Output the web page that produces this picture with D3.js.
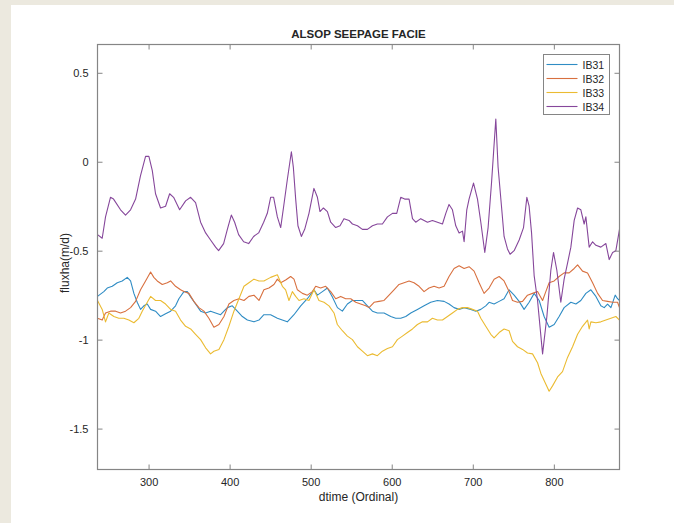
<!DOCTYPE html>
<html>
<head>
<meta charset="utf-8">
<script src="https://cdn.jsdelivr.net/npm/d3@7"></script>
<style>
  html, body { margin: 0; padding: 0; background: #ffffff; }
  svg { display: block; }
  text { font-family: "Liberation Sans", Arial, Helvetica, sans-serif; fill: #262626; }
</style>
</head>
<body>
<svg id="chart" width="674" height="523"></svg>
<script>
// Series as [dtime, fluxha] pairs
const IB31 = [
  [237,-0.757],[244.8,-0.73],[249,-0.71],[255.2,-0.70],[261.4,-0.68],[267.5,-0.67],[273.7,-0.65],
  [277.8,-0.67],[281.9,-0.74],[286,-0.79],[290.1,-0.83],[294.2,-0.81],[298.4,-0.80],[302.5,-0.83],
  [308.6,-0.84],[314.8,-0.87],[321,-0.855],[327.2,-0.84],[333.3,-0.81],[337.4,-0.77],[343.6,-0.73],
  [347.8,-0.73],[351.9,-0.76],[358,-0.80],[364.2,-0.84],[370.4,-0.85],[376.5,-0.84],[382.7,-0.85],
  [388.9,-0.86],[393,-0.84],[397.2,-0.82],[403.3,-0.81],[409.5,-0.84],[415.7,-0.87],[421.9,-0.89],
  [430,-0.90],[436.2,-0.89],[442.3,-0.86],[450.6,-0.86],[458.9,-0.88],[465,-0.89],[471.2,-0.90],
  [479.4,-0.86],[487.7,-0.81],[495.9,-0.77],[504.1,-0.72],[508.3,-0.75],[514.5,-0.73],[520.6,-0.71],
  [526.8,-0.76],[533,-0.82],[539.1,-0.84],[545.3,-0.80],[551.5,-0.78],[557.7,-0.78],[563.8,-0.78],
  [570,-0.81],[576.2,-0.84],[582.3,-0.85],[590.5,-0.85],[598.8,-0.87],[604.9,-0.88],[611.1,-0.88],
  [617.3,-0.87],[623.5,-0.85],[631.7,-0.83],[639.9,-0.81],[648.1,-0.79],[656.4,-0.78],[664.6,-0.785],
  [670.7,-0.80],[676.9,-0.82],[683.1,-0.83],[689.3,-0.82],[697.5,-0.83],[703.7,-0.84],[709.9,-0.83],
  [716,-0.81],[720.1,-0.79],[726.3,-0.80],[732.5,-0.785],[738.6,-0.77],[744.8,-0.72],[751,-0.75],
  [757.2,-0.785],[763.3,-0.83],[769.5,-0.79],[775.7,-0.74],[781.9,-0.78],[788,-0.87],[794.2,-0.93],
  [800.4,-0.915],[806.5,-0.87],[812.7,-0.82],[821,-0.79],[827.2,-0.80],[833.3,-0.78],[839.5,-0.74],
  [845.7,-0.72],[851.9,-0.757],[858,-0.81],[862.1,-0.82],[866.3,-0.80],[870.4,-0.82],[875.7,-0.75],
  [878.6,-0.77],[881,-0.78]
];

const IB32 = [
  [237,-0.88],[242.8,-0.89],[246.9,-0.85],[253.1,-0.84],[259.3,-0.84],[265.4,-0.85],[271.6,-0.84],
  [277.8,-0.82],[284,-0.785],[290.1,-0.72],[296.3,-0.67],[302.5,-0.62],[306.5,-0.65],[310.7,-0.67],
  [316.9,-0.69],[323.1,-0.68],[327.2,-0.67],[333.3,-0.70],[339.5,-0.72],[343.6,-0.73],[349.8,-0.74],
  [355.9,-0.785],[362.1,-0.82],[368.3,-0.84],[374.4,-0.88],[380.6,-0.93],[386.8,-0.915],[393,-0.87],
  [399.1,-0.80],[405.3,-0.78],[411.5,-0.77],[417.7,-0.78],[423.8,-0.757],[430,-0.75],[436.2,-0.78],
  [442.3,-0.72],[448.5,-0.71],[454.7,-0.69],[458.9,-0.66],[463,-0.68],[469.1,-0.665],[475.3,-0.645],
  [479.4,-0.66],[483.6,-0.72],[489.8,-0.74],[495.9,-0.75],[502.1,-0.73],[506.2,-0.70],[512.3,-0.71],
  [518.5,-0.70],[524.7,-0.73],[530.9,-0.77],[537,-0.757],[543.2,-0.77],[549.4,-0.77],[555.6,-0.79],
  [561.7,-0.80],[567.9,-0.81],[572,-0.82],[578.2,-0.79],[584.3,-0.785],[590.5,-0.78],[596.7,-0.75],
  [602.8,-0.72],[609,-0.69],[615.2,-0.68],[621.4,-0.67],[627.5,-0.68],[633.7,-0.70],[639.9,-0.73],
  [646,-0.71],[652.2,-0.70],[658.4,-0.71],[664.6,-0.70],[670.7,-0.645],[676.9,-0.60],[683.1,-0.585],
  [689.3,-0.60],[695.4,-0.59],[701.6,-0.615],[707.8,-0.68],[713.9,-0.74],[720.1,-0.71],[726.3,-0.66],
  [732.5,-0.645],[738.6,-0.67],[744.8,-0.73],[749,-0.78],[755.2,-0.79],[761.4,-0.785],[767.5,-0.75],
  [773.7,-0.74],[779.9,-0.73],[786.1,-0.78],[790.1,-0.73],[794.2,-0.68],[800.4,-0.67],[806.5,-0.645],
  [812.7,-0.625],[818.9,-0.625],[825.1,-0.60],[829.3,-0.58],[835.4,-0.615],[841.6,-0.625],[847.8,-0.68],
  [854,-0.74],[860.1,-0.78],[866.3,-0.785],[872.5,-0.79],[878.6,-0.79],[881,-0.82]
];

const IB33 = [
  [237,-0.78],[242.8,-0.83],[246.9,-0.90],[251,-0.85],[257.2,-0.87],[263.3,-0.88],[269.5,-0.88],
  [275.7,-0.89],[281.9,-0.905],[288,-0.88],[292.2,-0.84],[298.4,-0.79],[302.5,-0.757],[308.6,-0.78],
  [314.8,-0.78],[321,-0.80],[327.2,-0.83],[333.3,-0.84],[339.5,-0.89],[345.7,-0.925],[351.9,-0.94],
  [358,-0.97],[364.2,-1.00],[370.4,-1.046],[376.5,-1.08],[380.6,-1.065],[386.8,-1.055],[393,-1.00],
  [399.1,-0.925],[405.3,-0.84],[411.5,-0.77],[417.7,-0.70],[423.8,-0.68],[430,-0.66],[436.2,-0.67],
  [442.3,-0.67],[450.6,-0.65],[458.9,-0.635],[465.1,-0.70],[469.1,-0.72],[473.2,-0.78],[477.4,-0.73],
  [481.5,-0.757],[485.6,-0.78],[491.7,-0.77],[497.9,-0.78],[504.1,-0.72],[510.2,-0.78],[516.4,-0.79],
  [522.6,-0.81],[528.8,-0.85],[532.9,-0.915],[539.1,-0.95],[545.3,-0.98],[551.5,-1.00],[557.7,-1.04],
  [563.8,-1.065],[570,-1.09],[576.2,-1.08],[582.3,-1.09],[588.5,-1.065],[594.7,-1.05],[600.9,-1.04],
  [607,-1.00],[613.2,-0.98],[619.4,-0.96],[625.6,-0.94],[631.7,-0.915],[637.9,-0.90],[644.1,-0.90],
  [650.2,-0.88],[656.4,-0.89],[662.6,-0.89],[668.8,-0.87],[674.9,-0.85],[681.1,-0.83],[687.3,-0.82],
  [693.5,-0.82],[699.6,-0.83],[705.8,-0.84],[709.9,-0.88],[716,-0.925],[722.2,-0.97],[726.3,-0.99],
  [732.5,-0.96],[738.6,-0.94],[744.8,-0.95],[749,-1.01],[755.2,-1.04],[761.4,-1.055],[767.5,-1.075],
  [773.7,-1.08],[779.9,-1.13],[784,-1.19],[788,-1.23],[794.2,-1.29],[798.4,-1.26],[804.6,-1.21],
  [810.7,-1.18],[816.9,-1.10],[823.1,-1.04],[829.3,-0.97],[835.4,-0.925],[841.6,-0.89],[843.6,-0.94],
  [845.7,-0.90],[851.9,-0.905],[858,-0.90],[864.2,-0.89],[870.4,-0.88],[876.5,-0.87],[881,-0.89]
];

const IB34 = [
  [237,-0.41],[242.8,-0.43],[246.9,-0.31],[253,-0.20],[256.8,-0.21],[265.4,-0.27],[271.6,-0.30],
  [277.8,-0.27],[284,-0.21],[290,-0.08],[296.3,0.03],[300.4,0.03],[304.6,-0.05],[308.6,-0.18],
  [314.8,-0.26],[321,-0.25],[326,-0.18],[330.9,-0.20],[338.3,-0.27],[345.7,-0.22],[351.9,-0.20],
  [358,-0.23],[364.2,-0.34],[370.4,-0.40],[376.5,-0.44],[382.7,-0.48],[386.4,-0.50],[392.6,-0.46],
  [397.2,-0.38],[402.1,-0.30],[406.2,-0.34],[411.1,-0.41],[417.3,-0.45],[423.5,-0.46],[429.6,-0.42],
  [435.8,-0.40],[442,-0.34],[446.5,-0.29],[450.6,-0.20],[454.3,-0.20],[458.9,-0.31],[463,-0.37],
  [466.7,-0.25],[471.2,-0.10],[474.4,0.0],[476.2,0.056],[478.6,-0.03],[481.5,-0.21],[484.3,-0.36],
  [488.5,-0.42],[492.6,-0.38],[497.9,-0.29],[504,-0.15],[508.3,-0.20],[511.5,-0.28],[515.7,-0.26],
  [520.6,-0.28],[524.7,-0.34],[530.9,-0.37],[536.2,-0.36],[541.1,-0.32],[547.3,-0.33],[551.5,-0.35],
  [557.7,-0.36],[563.8,-0.38],[570,-0.38],[576.2,-0.36],[582.3,-0.35],[588.5,-0.35],[594.7,-0.31],
  [600.9,-0.29],[606.2,-0.29],[611.1,-0.20],[616,-0.21],[621.4,-0.21],[625.6,-0.32],[629.6,-0.34],
  [635.8,-0.32],[644.1,-0.34],[650.2,-0.33],[656.4,-0.34],[662.6,-0.35],[666.7,-0.29],[670.7,-0.24],
  [674.9,-0.27],[679,-0.36],[683.1,-0.40],[687.3,-0.39],[689.3,-0.45],[692.6,-0.27],[695.4,-0.21],
  [700.9,-0.12],[705.8,-0.21],[709.9,-0.34],[714.8,-0.51],[718.9,-0.37],[723.1,-0.12],[725.6,0.05],
  [728.4,0.24],[731.2,-0.03],[735.4,-0.25],[738.6,-0.42],[742.8,-0.49],[746,-0.52],[751,-0.50],
  [757.2,-0.44],[762.6,-0.37],[766.7,-0.20],[769.5,-0.25],[772.5,-0.40],[775.7,-0.64],[779.9,-0.78],
  [786.1,-1.08],[791.4,-0.87],[796.3,-0.61],[799.6,-0.51],[803.7,-0.61],[808.6,-0.79],[812.7,-0.66],
  [816.9,-0.57],[821,-0.48],[825.1,-0.33],[829.3,-0.26],[833.3,-0.27],[837.4,-0.35],[839.5,-0.31],
  [843.6,-0.48],[847.8,-0.45],[851.9,-0.47],[858,-0.48],[864.2,-0.46],[868.3,-0.55],[872.5,-0.51],
  [876.5,-0.50],[881,-0.38]
];

const seriesNames = ["IB31", "IB32", "IB33", "IB34"];
const seriesData = [IB31, IB32, IB33, IB34];
const seriesColors = ["#2f8cc4", "#d8703f", "#ebbb32", "#86479b"];

const xTicks = [300, 400, 500, 600, 700, 800];
const yTicks = [0.5, 0, -0.5, -1, -1.5];
const xDomain = [237, 881];
const yDomain = [-1.73, 0.659];

const chartTitle = "ALSOP SEEPAGE FACIE";
const xLabel = "dtime (Ordinal)";
const yLabel = "fluxha(m/d)";

// Figure layout
const W = 674, H = 523;
const box = { left: 97.5, right: 619.5, top: 44.5, bottom: 469.5 };

const svg = d3.select("#chart");

// Figure window backdrop: beige border strips around a white canvas
svg.append("rect").attr("x", 0).attr("y", 0).attr("width", W).attr("height", H).attr("fill", "#ece9df");
svg.append("rect").attr("x", 11).attr("y", 5).attr("width", W - 11).attr("height", H - 5).attr("fill", "#ffffff");

const x = d3.scaleLinear().domain(xDomain).range([box.left, box.right]);
const y = d3.scaleLinear().domain(yDomain).range([box.bottom, box.top]);

const axisColor = "#858585";
const tickLen = 5;

// Axes background
svg.append("rect")
  .attr("x", box.left).attr("y", box.top)
  .attr("width", box.right - box.left).attr("height", box.bottom - box.top)
  .attr("fill", "#ffffff");

// Data lines, clipped to the axes box
svg.append("clipPath").attr("id", "plotclip")
  .append("rect")
  .attr("x", box.left).attr("y", box.top)
  .attr("width", box.right - box.left).attr("height", box.bottom - box.top);

const line = d3.line().x(d => x(d[0])).y(d => y(d[1]));
const lines = svg.append("g").attr("clip-path", "url(#plotclip)");
seriesData.forEach((s, i) => {
  lines.append("path")
    .datum(s)
    .attr("d", line)
    .attr("fill", "none")
    .attr("stroke", seriesColors[i])
    .attr("stroke-width", 1.1)
    .attr("stroke-linejoin", "round");
});

// Axes with inward ticks on all four sides
function styleAxis(g) {
  g.select(".domain").remove();
  g.selectAll(".tick line").attr("stroke", axisColor).attr("stroke-width", 1);
  g.selectAll(".tick text").attr("fill", "#3a3a3a").style("font-size", "11px")
    .style("font-family", '"Liberation Sans", Arial, sans-serif');
}

// Plain hyphen-minus labels, e.g. "-0.5"
const fmt = d => String(d);

svg.append("g")
  .attr("transform", `translate(0,${box.bottom})`)
  .call(d3.axisBottom(x).tickValues(xTicks).tickSize(-tickLen).tickPadding(9).tickFormat(fmt))
  .call(styleAxis);

svg.append("g")
  .attr("transform", `translate(0,${box.top})`)
  .call(d3.axisTop(x).tickValues(xTicks).tickSize(-tickLen).tickFormat(""))
  .call(styleAxis);

svg.append("g")
  .attr("transform", `translate(${box.left},0)`)
  .call(d3.axisLeft(y).tickValues(yTicks).tickSize(-tickLen).tickPadding(9).tickFormat(fmt))
  .call(styleAxis);

svg.append("g")
  .attr("transform", `translate(${box.right},0)`)
  .call(d3.axisRight(y).tickValues(yTicks).tickSize(-tickLen).tickFormat(""))
  .call(styleAxis);

// Axes frame
svg.append("rect")
  .attr("x", box.left).attr("y", box.top)
  .attr("width", box.right - box.left).attr("height", box.bottom - box.top)
  .attr("fill", "none").attr("stroke", axisColor).attr("stroke-width", 1.2);

// Title and axis labels
svg.append("text")
  .attr("x", (box.left + box.right) / 2).attr("y", 38)
  .attr("text-anchor", "middle")
  .style("font-size", "11.5px").style("font-weight", "bold")
  .attr("fill", "#111")
  .text(chartTitle);

svg.append("text")
  .attr("x", (box.left + box.right) / 2).attr("y", 501)
  .attr("text-anchor", "middle")
  .style("font-size", "12px")
  .attr("fill", "#3a3a3a")
  .text(xLabel);

svg.append("text")
  .attr("transform", "translate(69,263) rotate(-90)")
  .attr("text-anchor", "middle")
  .style("font-size", "12px")
  .attr("fill", "#3a3a3a")
  .text(yLabel);

// Legend
const legend = { x: 543.5, y: 54.5, w: 66, h: 60 };
svg.append("rect")
  .attr("x", legend.x).attr("y", legend.y)
  .attr("width", legend.w).attr("height", legend.h)
  .attr("fill", "#ffffff").attr("stroke", axisColor).attr("stroke-width", 1);

seriesNames.forEach((name, i) => {
  const ly = legend.y + 10 + i * 14;
  svg.append("line")
    .attr("x1", legend.x + 3).attr("x2", legend.x + 34)
    .attr("y1", ly).attr("y2", ly)
    .attr("stroke", seriesColors[i]).attr("stroke-width", 1.1);
  svg.append("text")
    .attr("x", legend.x + 39).attr("y", ly + 4)
    .style("font-size", "10.5px")
    .attr("fill", "#222")
    .text(name);
});
</script>
</body>
</html>
